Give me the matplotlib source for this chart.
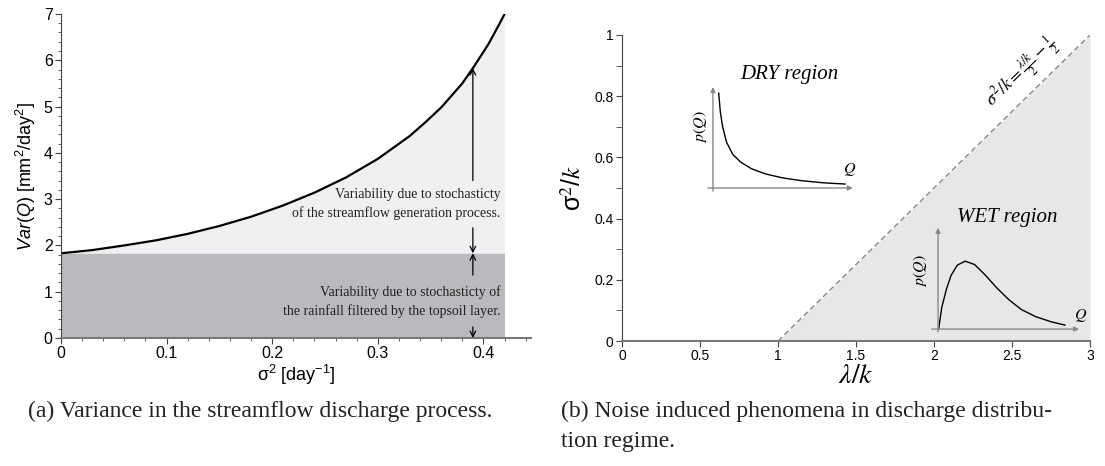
import matplotlib
matplotlib.use("Agg")
import matplotlib.pyplot as plt
from matplotlib.ticker import MultipleLocator

plt.rcParams["font.family"] = ["Liberation Sans", "DejaVu Sans"]
plt.rcParams["mathtext.fontset"] = "custom"
plt.rcParams["mathtext.rm"] = "Liberation Sans"
plt.rcParams["mathtext.it"] = "Liberation Sans:italic"

# (a) variance vs sigma^2
sigma2 = [0, 0.03, 0.06, 0.09, 0.12, 0.15, 0.18, 0.21, 0.24, 0.27, 0.30, 0.33,
          0.345, 0.36, 0.37, 0.38, 0.39, 0.40, 0.405, 0.41, 0.415, 0.42]
var_q = [1.83, 1.90, 2.00, 2.11, 2.25, 2.42, 2.62, 2.86, 3.14, 3.47, 3.87, 4.36,
         4.66, 4.98, 5.24, 5.50, 5.83, 6.18, 6.36, 6.57, 6.78, 7.0]
var_base = 1.83

# (b) regime boundary sigma^2/k = (lambda/k)/2 - 1/2
bound_x = [1, 3]
bound_y = [0, 1]

# small sketches of p(Q)
dry_x = [0.62, 0.63, 0.645, 0.67, 0.71, 0.76, 0.83, 0.92, 1.03, 1.15, 1.29, 1.43]
dry_y = [0.81, 0.75, 0.70, 0.65, 0.61, 0.585, 0.563, 0.546, 0.533, 0.524, 0.517, 0.513]
wet_x = [2.03, 2.05, 2.08, 2.11, 2.15, 2.20, 2.26, 2.33, 2.40, 2.48, 2.56, 2.65, 2.75, 2.84]
wet_y = [0.04, 0.11, 0.17, 0.215, 0.248, 0.261, 0.25, 0.215, 0.175, 0.135, 0.103, 0.08, 0.063, 0.052]

fig = plt.figure(figsize=(11.05, 4.66), dpi=100)

# ---------------- panel (a)
ax = fig.add_axes([0.0552, 0.2747, 0.4253, 0.6953])
ax.fill_between([0, 0.42], 0, var_base, color="#b9babd", lw=0)
ax.fill_between(sigma2, var_base, var_q, color="#eff0f2", lw=0)
ax.plot(sigma2, var_q, color="black", lw=1.6)
ax.set_xlim(0, 0.445)
ax.set_ylim(0, 7)
ax.xaxis.set_major_locator(MultipleLocator(0.1))
ax.xaxis.set_minor_locator(MultipleLocator(0.02))
ax.yaxis.set_major_locator(MultipleLocator(1))
ax.yaxis.set_minor_locator(MultipleLocator(0.2))
ax.set_xticklabels(["", "0", "0.1", "0.2", "0.3", "0.4"])
for s in ["top", "right"]:
    ax.spines[s].set_visible(False)
ax.spines["left"].set_color("#444444")
ax.spines["bottom"].set_color("#777777")
ax.spines["bottom"].set_linewidth(1.5)
ax.tick_params(which="major", length=4, color="#444444", labelsize=11.5, pad=2)
ax.tick_params(which="minor", length=2.5, color="#444444")
ax.set_ylabel(r"$\mathit{Var(Q)}$ [mm$^2$/day$^2$]", fontsize=13, labelpad=4)
ax.set_xlabel(r"σ$^2$ [day$^{-1}$]", fontsize=13, labelpad=1)

ax_x = 0.39
arrow = dict(arrowstyle="->", color="black", lw=0.9, shrinkA=0, shrinkB=0)
ax.annotate("", xy=(ax_x, 5.83), xytext=(ax_x, 3.40), arrowprops=arrow)
ax.annotate("", xy=(ax_x, var_base), xytext=(ax_x, 2.38), arrowprops=arrow)
ax.annotate("", xy=(ax_x, var_base), xytext=(ax_x, 1.36), arrowprops=arrow)
ax.annotate("", xy=(ax_x, 0), xytext=(ax_x, 0.24), arrowprops=arrow)
ax.text(0.416, 2.9, "Variability due to stochasticty\nof the streamflow generation process.",
        family="Liberation Serif", fontsize=10, ha="right", va="center",
        multialignment="right", linespacing=1.45, color="#222222")
ax.text(0.416, 0.78, "Variability due to stochasticty of\nthe rainfall filtered by the topsoil layer.",
        family="Liberation Serif", fontsize=10, ha="right", va="center",
        multialignment="right", linespacing=1.45, color="#222222")

# ---------------- panel (b)
bx = fig.add_axes([0.5629, 0.2682, 0.4235, 0.6567])
bx.fill_between(bound_x, 0, bound_y, color="#e6e7e8", lw=0)
bx.plot(bound_x, bound_y, color="#888888", lw=1, ls=(0, (4, 2.5)))
bx.set_xlim(0, 3)
bx.set_ylim(0, 1)
bx.xaxis.set_major_locator(MultipleLocator(0.5))
bx.yaxis.set_major_locator(MultipleLocator(0.2))
bx.yaxis.set_minor_locator(MultipleLocator(0.1))
bx.set_xticklabels(["", "0", "0.5", "1", "1.5", "2", "2.5", "3"])
bx.set_yticklabels(["", "0", "0.2", "0.4", "0.6", "0.8", "1"])
for s in ["top", "right"]:
    bx.spines[s].set_visible(False)
bx.spines["left"].set_color("#444444")
bx.spines["bottom"].set_color("#777777")
bx.spines["bottom"].set_linewidth(1.5)
bx.tick_params(which="major", length=4, color="#444444", labelsize=10, pad=2)
bx.tick_params(which="minor", length=4, color="#444444")
bx.set_xlabel(r"$\lambda/k$", fontsize=20, math_fontfamily="stix", labelpad=0)
bx.set_ylabel(r"σ$^2$/$k$", fontsize=18, labelpad=6)
bx.yaxis.label.set_math_fontfamily("stix")

bx.text(2.57, 0.875, r"$\sigma^2/k=\frac{\lambda/k}{2}-\frac{1}{2}$", fontsize=13,
        math_fontfamily="stix", rotation=44.5, ha="center", va="center",
        rotation_mode="anchor")

gray_arrow = dict(arrowstyle="-|>", color="#888888", lw=1, shrinkA=0, shrinkB=0,
                  mutation_scale=7)
# dry sketch
bx.annotate("", xy=(0.583, 0.83), xytext=(0.583, 0.49), arrowprops=gray_arrow)
bx.annotate("", xy=(1.48, 0.50), xytext=(0.55, 0.50), arrowprops=gray_arrow)
bx.plot(dry_x, dry_y, color="black", lw=1)
bx.text(0.50, 0.70, r"$p(Q)$", math_fontfamily="stix", fontsize=11.5, rotation=90,
        ha="center", va="center")
bx.text(1.46, 0.56, r"$Q$", math_fontfamily="stix", fontsize=11.5, ha="center", va="center")
bx.text(1.07, 0.87, "DRY region", family="Liberation Serif", style="italic", fontsize=15,
        ha="center", va="center")
# wet sketch
bx.annotate("", xy=(2.026, 0.37), xytext=(2.026, 0.03), arrowprops=gray_arrow)
bx.annotate("", xy=(2.93, 0.039), xytext=(1.985, 0.039), arrowprops=gray_arrow)
bx.plot(wet_x, wet_y, color="black", lw=1)
bx.text(1.91, 0.23, r"$p(Q)$", math_fontfamily="stix", fontsize=11.5, rotation=90,
        ha="center", va="center")
bx.text(2.94, 0.085, r"$Q$", math_fontfamily="stix", fontsize=11.5, ha="center", va="center")
bx.text(2.47, 0.405, "WET region", family="Liberation Serif", style="italic", fontsize=15,
        ha="center", va="center")

# captions
cap = dict(family="Liberation Serif", fontsize=17, ha="left", va="center", color="#222222")
fig.text(28 / 1105, 1 - 411 / 466, "(a) Variance in the streamflow discharge process.", **cap)
fig.text(561 / 1105, 1 - 411 / 466, "(b) Noise induced phenomena in discharge distribu-", **cap)
fig.text(561 / 1105, 1 - 442 / 466, "tion regime.", **cap)

fig.savefig("out.png", dpi=100)
